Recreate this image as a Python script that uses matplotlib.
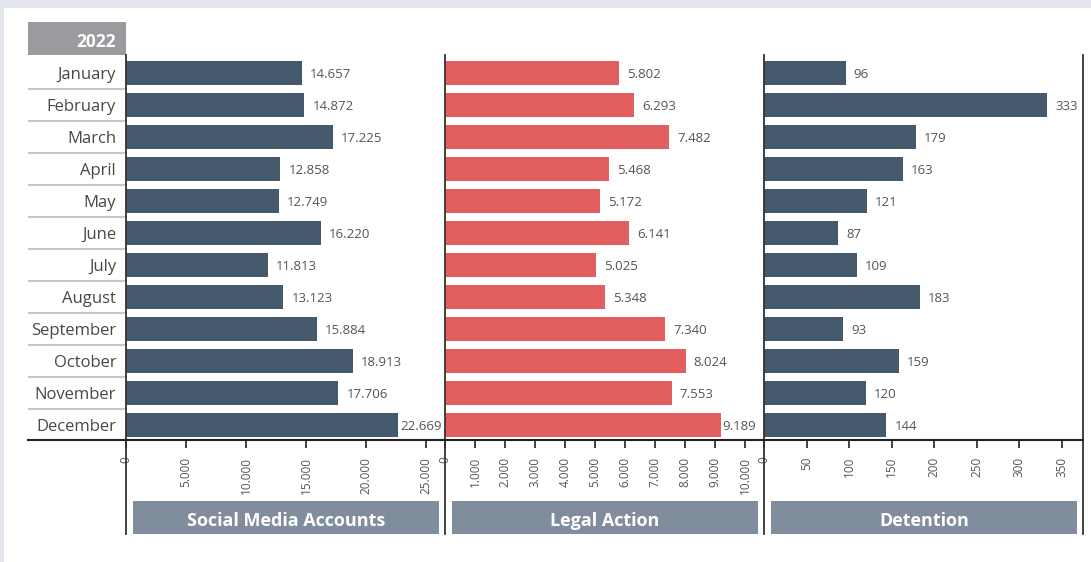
import matplotlib
matplotlib.use("Agg")
import matplotlib.pyplot as plt
from matplotlib.patches import Rectangle
from matplotlib.lines import Line2D

plt.rcParams['font.family'] = ['Open Sans', 'DejaVu Sans']

months = ['January', 'February', 'March', 'April', 'May', 'June', 'July',
          'August', 'September', 'October', 'November', 'December']
social_media = [14657, 14872, 17225, 12858, 12749, 16220, 11813, 13123,
                15884, 18913, 17706, 22669]
legal_action = [5802, 6293, 7482, 5468, 5172, 6141, 5025, 5348, 7340,
                8024, 7553, 9189]
detention = [96, 333, 179, 163, 121, 87, 109, 183, 93, 159, 120, 144]
titles = ['Social Media Accounts', 'Legal Action', 'Detention']
year_label = '2022'

W, H = 1091, 562
DARK = '#44596b'
RED = '#e35f5f'
TITLE_BG = '#808d9c'
TEXT = '#555555'


def fx(px):
    return px / W


def fy(py):
    return 1 - py / H


def fmt(v):
    return f"{v:,}".replace(',', '.')


fig = plt.figure(figsize=(W / 100, H / 100), dpi=100)
fig.patch.set_facecolor('#e2e6ec')
fig.patches.append(Rectangle((fx(4), 0), fx(W - 4), 1 - 8 / H, transform=fig.transFigure,
                             facecolor='white', edgecolor='none', zorder=-10))

top, bottom = 57, 440
n = len(months)
ylim = (n - 1 + 15 / 32, -0.5)

# month labels column
lab = fig.add_axes([fx(28), fy(bottom), fx(126 - 28), (bottom - top) / H])
lab.set_xlim(0, 1)
lab.set_ylim(*ylim)
lab.axis('off')
for i, m in enumerate(months):
    lab.text(0.9, i, m, ha='right', va='center_baseline', fontsize=12, color='#484848')
for i in range(n - 1):
    lab.axhline(i + 0.5, color='#c8c8c8', lw=1.5)

# year header
fig.patches.append(Rectangle((fx(28), fy(55)), fx(98), 33 / H, transform=fig.transFigure,
                             facecolor='#9a9b9f', edgecolor='none'))
fig.text(fx(116), fy(40), year_label, ha='right', va='center_baseline', fontsize=12.5,
         fontweight='bold', color='white')

panels = [
    (126, 445, social_media, DARK, 26583, range(0, 25001, 5000)),
    (445, 764, legal_action, RED, 10633, range(0, 10001, 1000)),
    (764, 1083, detention, DARK, 375, range(0, 351, 50)),
]

for (left, right, vals, color, xmax, ticks), title in zip(panels, titles):
    ax = fig.add_axes([fx(left), fy(bottom), fx(right - left), (bottom - top) / H])
    ax.barh(range(n), vals, height=0.78, color=color)
    ax.set_xlim(0, xmax)
    ax.set_ylim(*ylim)
    for s in ax.spines.values():
        s.set_visible(False)
    ax.set_yticks([])
    ax.set_xticks(list(ticks))
    ax.set_xticklabels([fmt(t) for t in ticks], rotation=90, fontsize=8.5, color=TEXT)
    ax.tick_params(axis='x', length=6, width=1.3, color='#333333', pad=6)
    px_per_unit = (right - left) / xmax
    # value labels; pulled in against the bar end when they would run past the panel
    for i, v in enumerate(vals):
        label = fmt(v)
        pad = 8
        if left + v * px_per_unit + pad + len(label) * 6.8 > right - 3:
            pad = 2
        ax.text(v + pad / px_per_unit, i, label, ha='left', va='center_baseline',
                fontsize=9.5, color=TEXT)
    # title box
    fig.patches.append(Rectangle((fx(left + 7), fy(534)), fx(right - left - 13), 33 / H,
                                 transform=fig.transFigure, facecolor=TITLE_BG,
                                 edgecolor='none'))
    fig.text(fx((left + right) / 2 + 0.5), fy(519), title, ha='center',
             va='center_baseline', fontsize=13, fontweight='bold', color='white')

# separators and baseline
for x in [126, 445, 764, 1083]:
    fig.add_artist(Line2D([fx(x), fx(x)], [fy(55), fy(534)], color='#333333', lw=1.3))
fig.add_artist(Line2D([fx(28), fx(1083)], [fy(440), fy(440)], color='#222222', lw=1.5))

fig.savefig('out.png', dpi=100, facecolor=fig.get_facecolor())
